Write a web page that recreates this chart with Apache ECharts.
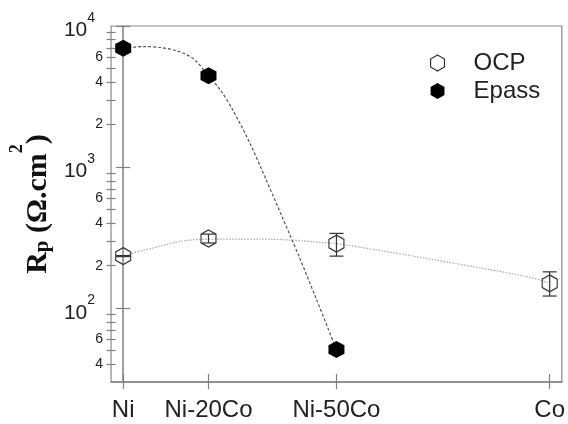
<!DOCTYPE html>
<html><head><meta charset="utf-8">
<script src="https://cdn.jsdelivr.net/npm/echarts@6/dist/echarts.min.js"></script>
<style>html,body{margin:0;padding:0;background:#fff}#c{width:568px;height:424px}</style>
</head><body><div id="c"></div>
<script>
// ---- data ----
const categories = ['Ni', 'Ni-20Co', 'Ni-50Co', 'Co'];
const coContent = [0, 20, 50, 100];
const ocpRp = [234, 312, 287, 150];
const ocpErrLow = [232, 290, 234, 122];
const ocpErrHigh = [236, 335, 339, 181];
const epassX = [0, 20, 50];
const epassRp = [6950, 4440, 51];
// fitted guide curves
const ocpFitX = [0, 4.9, 18, 29.7, 40, 48.3, 50, 64.5, 80, 95.5, 100];
const ocpFitY = [234, 258, 307, 309, 303, 289, 287, 244, 202, 165, 150];
const epassFitX = [0, 4.8, 8.8, 12.7, 16.4, 20, 22.9, 25.7, 29.7, 33.6, 37.3, 41.3, 45.2, 50];
const epassFitY = [6950, 7150, 7040, 6650, 5880, 4440, 3480, 2540, 1480, 803, 442, 230, 118, 51];
const majorTicks = [100, 1000, 10000];
const minorTicks = [40, 50, 60, 70, 80, 90, 200, 300, 400, 500, 600, 700, 800, 900,
  2000, 3000, 4000, 5000, 6000, 7000, 8000, 9000];
const minorLabels = [40, 60, 200, 400, 600, 2000, 4000, 6000];

const HEX = 'path://M0,-1 L0.866,-0.5 L0.866,0.5 L0,1 L-0.866,0.5 L-0.866,-0.5 Z';
const AX = '#808080';
const SANS = 'Liberation Sans';

const zip = (a, b) => a.map((v, i) => [v, b[i]]);

function yAx(ticks, inside, len, labels, extra) {
  return Object.assign({
    type: 'log', logBase: 10, min: 30, max: 10000, position: 'left', offset: 0,
    splitLine: { show: false },
    axisLine: { show: false },
    axisTick: { show: true, inside: inside, length: len, customValues: ticks,
      lineStyle: { color: AX, width: 1.2 } },
    axisLabel: { show: false }
  }, extra || {});
}

const chart = echarts.init(document.getElementById('c'), null, { renderer: 'canvas' });
chart.setOption({
  animation: false,
  backgroundColor: '#fff',
  grid: { left: 110, top: 26, right: 3, bottom: 42, show: true, borderColor: '#8a8a8a', borderWidth: 1.2 },
  xAxis: [
    {
      type: 'value', min: -2.85, max: 102.85, position: 'bottom',
      splitLine: { show: false },
      axisLine: { show: true, lineStyle: { color: AX, width: 1.5 } },
      axisTick: { show: true, inside: true, length: 8, customValues: coContent, lineStyle: { color: AX, width: 1.2 } },
      axisLabel: { show: false }
    },
    {
      type: 'value', min: -2.85, max: 102.85, position: 'bottom',
      splitLine: { show: false },
      axisLine: { show: false },
      axisTick: { show: true, inside: false, length: 7, customValues: coContent, lineStyle: { color: AX, width: 1.2 } },
      axisLabel: {
        show: true, customValues: coContent, margin: 16,
        fontFamily: SANS, fontSize: 24, color: '#222',
        formatter: v => categories[coContent.indexOf(Math.round(v))] || ''
      }
    }
  ],
  yAxis: [
    yAx(majorTicks, true, 7, false, { axisLine: { show: true, lineStyle: { color: AX, width: 1.5 } } }),
    yAx(majorTicks, false, 7, true, {
      axisLabel: {
        show: true, customValues: majorTicks, margin: 16,
        formatter: v => '{b|10}{s|' + Math.round(Math.log10(v)) + '}',
        rich: {
          b: { fontFamily: SANS, fontSize: 21, color: '#222', lineHeight: 30, verticalAlign: 'bottom' },
          s: { fontFamily: SANS, fontSize: 14, color: '#222', lineHeight: 14, verticalAlign: 'top' }
        }
      },
      name: '{r|R}{p|p}{r| (Ω.cm}{s|2}{r|)}',
      nameLocation: 'middle', nameRotate: 90, nameGap: 55,
      nameTextStyle: {
        fontFamily: 'Liberation Serif', fontWeight: 'bold', fontSize: 30, color: '#111',
        rich: {
          r: { fontFamily: 'Liberation Serif', fontWeight: 'bold', fontSize: 30, color: '#111', lineHeight: 45, verticalAlign: 'bottom' },
          p: { fontFamily: 'Liberation Serif', fontWeight: 'bold', fontSize: 21, color: '#111', lineHeight: 45, verticalAlign: 'bottom' },
          s: { fontFamily: 'Liberation Serif', fontWeight: 'bold', fontSize: 18, color: '#111', lineHeight: 18, verticalAlign: 'top' }
        }
      }
    }),
    yAx(minorTicks, true, 4.5, false),
    yAx(minorTicks, false, 4.5, true, {
      axisLabel: {
        show: true, customValues: minorLabels, margin: 8,
        fontFamily: SANS, fontSize: 14, color: '#222',
        formatter: v => String(Math.round(v / Math.pow(10, Math.floor(Math.log10(v) + 1e-9))))
      }
    })
  ],
  legend: {
    orient: 'vertical', left: 425, top: 46, itemWidth: 14, itemHeight: 16, itemGap: 4,
    textStyle: { fontFamily: SANS, fontSize: 24, color: '#222', padding: [0, 0, 0, 24] },
    data: [
      { name: 'OCP', icon: HEX, itemStyle: { color: '#fff', borderColor: '#333', borderWidth: 1.2 } },
      { name: 'Epass', icon: HEX, itemStyle: { color: '#000', borderColor: '#000', borderWidth: 0 } }
    ]
  },
  series: [
    {
      name: 'OCP fit', type: 'line', xAxisIndex: 0, yAxisIndex: 0,
      data: zip(ocpFitX, ocpFitY), smooth: 0.4, showSymbol: false, symbol: 'none', silent: true,
      lineStyle: { color: '#a8a8a8', width: 1.2, type: [1.5, 1.5] }, z: 2
    },
    {
      name: 'Epass fit', type: 'line', xAxisIndex: 0, yAxisIndex: 0,
      data: zip(epassFitX, epassFitY), smooth: 0.3, showSymbol: false, symbol: 'none', silent: true,
      lineStyle: { color: '#555', width: 1.2, type: [3, 2] }, z: 2
    },
    {
      name: 'OCP', type: 'scatter', xAxisIndex: 0, yAxisIndex: 0,
      data: zip(coContent, ocpRp), symbol: HEX, symbolSize: [15, 17],
      itemStyle: { color: 'rgba(255,255,255,0)', borderColor: '#333', borderWidth: 1.2, opacity: 1 }, z: 4
    },
    {
      name: 'Epass', type: 'scatter', xAxisIndex: 0, yAxisIndex: 0,
      data: zip(epassX, epassRp), symbol: HEX, symbolSize: [16, 17],
      itemStyle: { color: '#000', opacity: 1 }, z: 4
    },
    {
      name: 'OCP err', type: 'custom', xAxisIndex: 0, yAxisIndex: 0, silent: true, z: 5,
      data: coContent.map((x, i) => [x, ocpErrLow[i], ocpErrHigh[i]]),
      encode: { x: 0, y: [1, 2] },
      renderItem: function (params, api) {
        const lo = api.coord([api.value(0), api.value(1)]);
        const hi = api.coord([api.value(0), api.value(2)]);
        const w = 7;
        const st = { stroke: '#333', lineWidth: 1.2 };
        return {
          type: 'group',
          children: [
            { type: 'line', shape: { x1: lo[0], y1: lo[1], x2: hi[0], y2: hi[1] }, style: st },
            { type: 'line', shape: { x1: lo[0] - w, y1: lo[1], x2: lo[0] + w, y2: lo[1] }, style: st },
            { type: 'line', shape: { x1: hi[0] - w, y1: hi[1], x2: hi[0] + w, y2: hi[1] }, style: st }
          ]
        };
      }
    }
  ]
});
</script>
</body></html>
